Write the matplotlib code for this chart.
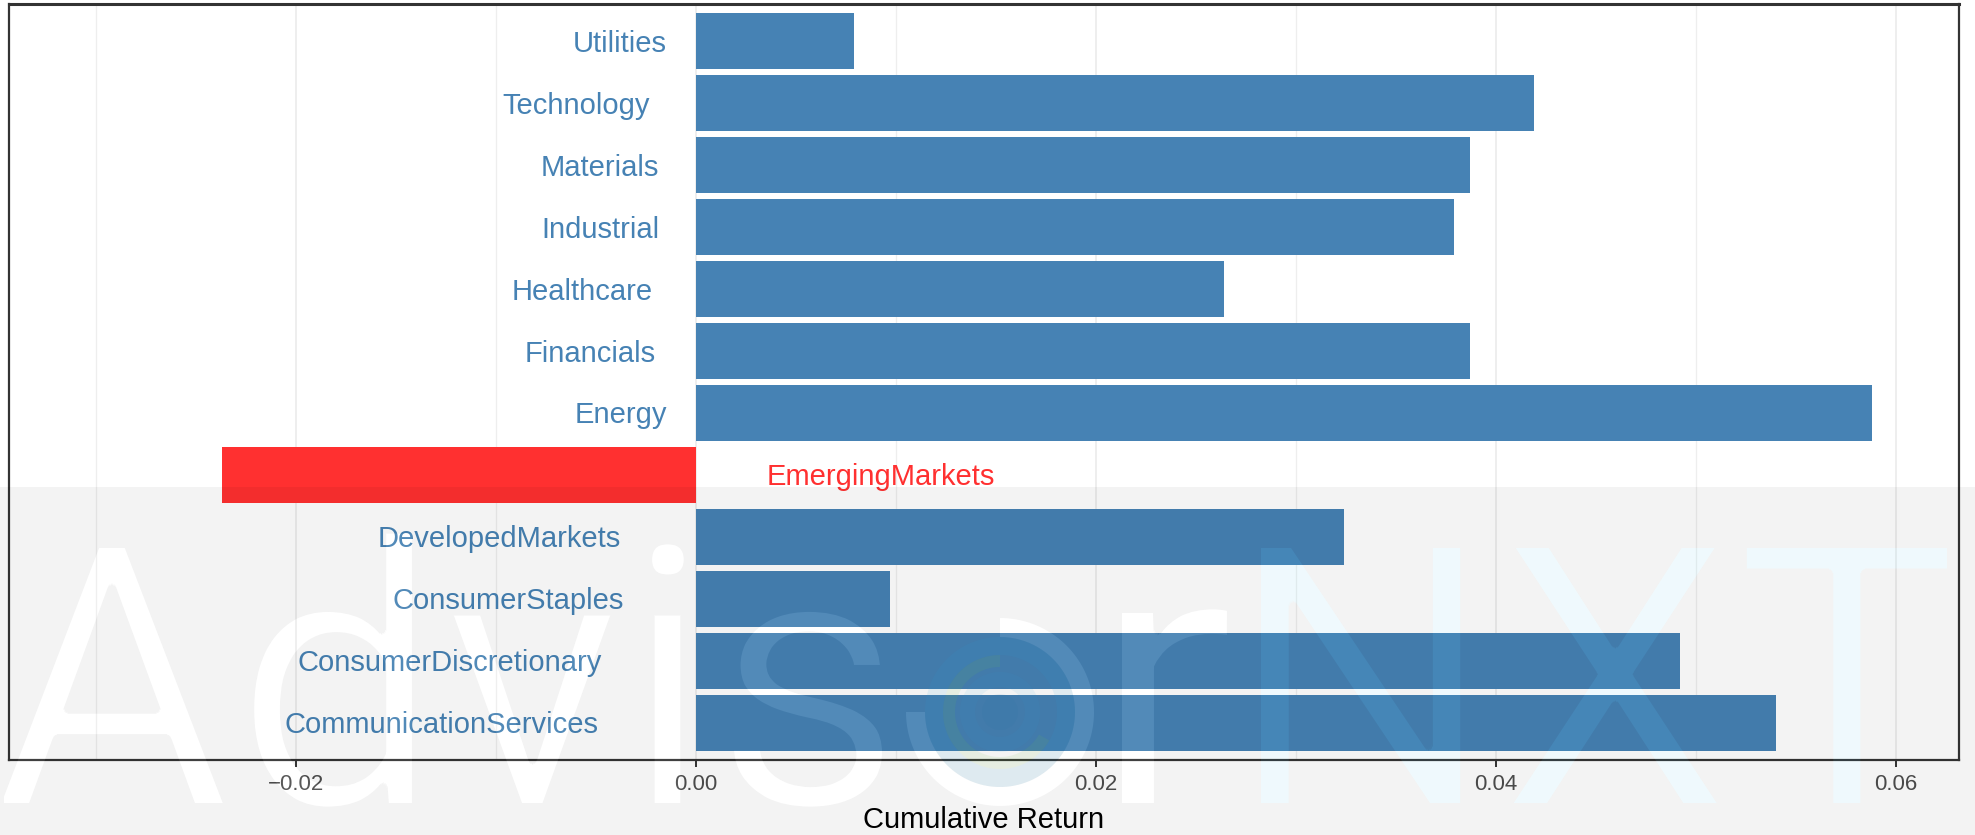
import numpy as np
import matplotlib
matplotlib.use("Agg")
import matplotlib.pyplot as plt
from matplotlib.figure import Figure
from matplotlib.backends.backend_agg import FigureCanvasAgg
from matplotlib.patches import PathPatch, Wedge
from matplotlib.path import Path
from matplotlib.textpath import TextPath
from matplotlib.font_manager import FontProperties
from matplotlib.transforms import Affine2D, IdentityTransform
from matplotlib.ticker import FuncFormatter, FixedLocator

# sector returns, bottom to top
sectors = ["CommunicationServices", "ConsumerDiscretionary", "ConsumerStaples",
           "DevelopedMarkets", "EmergingMarkets", "Energy", "Financials",
           "Healthcare", "Industrial", "Materials", "Technology", "Utilities"]
returns = [0.0540, 0.0492, 0.0097, 0.0324, -0.0237, 0.0588, 0.0387,
           0.0264, 0.0379, 0.0387, 0.0419, 0.0079]

major_ticks = [-0.02, 0.00, 0.02, 0.04, 0.06]
minor_ticks = [-0.03, -0.01, 0.01, 0.03, 0.05]

pos_color = "#4682B4"
neg_color = "#FF3030"

plt.rcParams['font.family'] = ['Liberation Sans', 'DejaVu Sans']

W, H = 1975, 835
fig = plt.figure(figsize=(W / 100, H / 100), dpi=100)
fig.patch.set_facecolor("white")
ax = fig.add_axes([9 / W, 75 / H, 1950 / W, 756 / H])

ypos = np.arange(len(sectors))
colors = [neg_color if v < 0 else pos_color for v in returns]
ax.barh(ypos, returns, height=0.9, color=colors, zorder=2)

ax.set_xlim(-0.03435, 0.06315)
ax.set_ylim(-0.6, 11.6)
ax.xaxis.set_major_locator(FixedLocator(major_ticks))
ax.xaxis.set_minor_locator(FixedLocator(minor_ticks))
ax.xaxis.set_major_formatter(FuncFormatter(lambda v, p: f"{v:.2f}".replace("-", "\u2212")))
ax.set_axisbelow(True)
ax.grid(axis="x", which="major", color="#EBEBEB", lw=1.2)
ax.grid(axis="x", which="minor", color="#EEEEEE", lw=0.9)
ax.tick_params(axis="x", which="minor", length=0)
ax.tick_params(axis="x", which="major", length=4.8, width=1.4, color="#333333",
               labelsize=16, labelcolor="#4D4D4D", pad=5.5)
ax.tick_params(axis="y", left=False, labelleft=False)
for s in ax.spines.values():
    s.set_color("#333333")
    s.set_linewidth(1.6)
ax.spines["top"].set_linewidth(2.2)
ax.set_xlabel("Cumulative Return", fontsize=21, color="black", labelpad=8)

# sector names next to the zero line
fig.canvas.draw()
renderer = fig.canvas.get_renderer()
for i, (name, val) in enumerate(zip(sectors, returns)):
    col = neg_color if val < 0 else pos_color
    ha = "left" if val < 0 else "right"
    ann = ax.annotate(name, xy=(0, i), xytext=(0, -10.5), textcoords="offset pixels",
                      ha=ha, va="baseline", fontsize=21, color=col, zorder=3)
    w = ann.get_window_extent(renderer).width
    ann.xyann = (0.31 * w if val < 0 else -0.31 * w, -10.5)

# ---- watermark (grey band with the AdvisorNXT letters cut out) ----
wm_font = FontProperties(family="Roboto", weight="normal")
thin = 4  # px taken off the regular strokes


def fit_text(s, x0, x1, ytop, ybase, ref="H"):
    x0, x1, ytop, ybase = x0 - thin, x1 + thin, ytop - thin, ybase + thin
    tp = TextPath((0, 0), s, size=100, prop=wm_font)
    ext = tp.get_extents()
    refh = TextPath((0, 0), ref, size=100, prop=wm_font).get_extents().y1
    sx = (x1 - x0) / ext.width
    sy = (ybase - ytop) / refh
    tr = Affine2D().translate(-ext.x0, 0).scale(sx, sy).translate(x0, H - ybase)
    return tr.transform_path(tp)


def ring_path(cx, cy, r_in, r_out, t1, t2):
    t = np.radians(np.linspace(t1, t2, 120))
    outer = np.c_[cx + r_out * np.cos(t), cy + r_out * np.sin(t)]
    inner = np.c_[cx + r_in * np.cos(t[::-1]), cy + r_in * np.sin(t[::-1])]
    v = np.vstack([outer, inner, outer[:1]])
    codes = [Path.MOVETO] + [Path.LINETO] * (len(v) - 2) + [Path.CLOSEPOLY]
    return Path(v, codes)


def path_mask(paths):
    f = Figure(figsize=(W / 100, H / 100), dpi=100)
    FigureCanvasAgg(f)
    f.patch.set_facecolor("black")
    for p in paths:
        f.add_artist(PathPatch(p, fc="white", ec="none", transform=IdentityTransform()))
    f.canvas.draw()
    return np.asarray(f.canvas.buffer_rgba())[..., 0].astype(float) / 255.0


def erode(m, r):
    out = m.copy()
    for dy in range(-r, r + 1):
        for dx in range(-r, r + 1):
            if dx * dx + dy * dy <= r * r:
                out = np.minimum(out, np.roll(np.roll(m, dy, 0), dx, 1))
    return out


cx, cy = 1000, H - 712
p_advis = fit_text("Advis", 0, 882, 548, 803)
p_r = fit_text("r", 1122, 1227, 613, 803, ref="x")
p_nxt = fit_text("NXT", 1261, 1947, 548, 803)
p_ring = ring_path(cx, cy, 75, 94, 180, 450)

m_white = np.maximum(erode(path_mask([p_advis, p_r]), thin), path_mask([p_ring]))
m_nxt = erode(path_mask([p_nxt]), thin)

band = np.zeros((H, W))
band[487:, :] = 1.0
band = band * (1 - m_white - m_nxt).clip(0, 1)

nxt_rgb = np.array([60, 190, 230]) / 255.0
alpha = band * 0.05 + m_white * 0.07 + m_nxt * 0.08
prem = (m_white * 0.07)[..., None] * np.ones(3) + (m_nxt * 0.08)[..., None] * nxt_rgb
rgb = np.where(alpha[..., None] > 0, prem / np.maximum(alpha, 1e-9)[..., None], 0)
overlay = np.dstack([rgb, alpha]).clip(0, 1)
fig.figimage(overlay, xo=0, yo=0, origin="upper", zorder=10)

# inner rings of the logo
for r_in, r_out, t1, t2, c, a in [(57, 75, 0, 360, "#2A9FD6", 0.10),
                                  (45, 57, 90, 330, "#6CC04A", 0.10),
                                  (25, 40, 0, 360, "#2A9FD6", 0.08)]:
    fig.add_artist(PathPatch(ring_path(cx, cy, r_in, r_out, t1, t2), fc=c, alpha=a,
                             ec="none", transform=IdentityTransform(), zorder=11))
fig.add_artist(Wedge((cx, cy), 18, 0, 360, fc="#1F6FA8", alpha=0.08, ec="none",
                     transform=IdentityTransform(), zorder=11))

fig.savefig("out.png", dpi=100)
